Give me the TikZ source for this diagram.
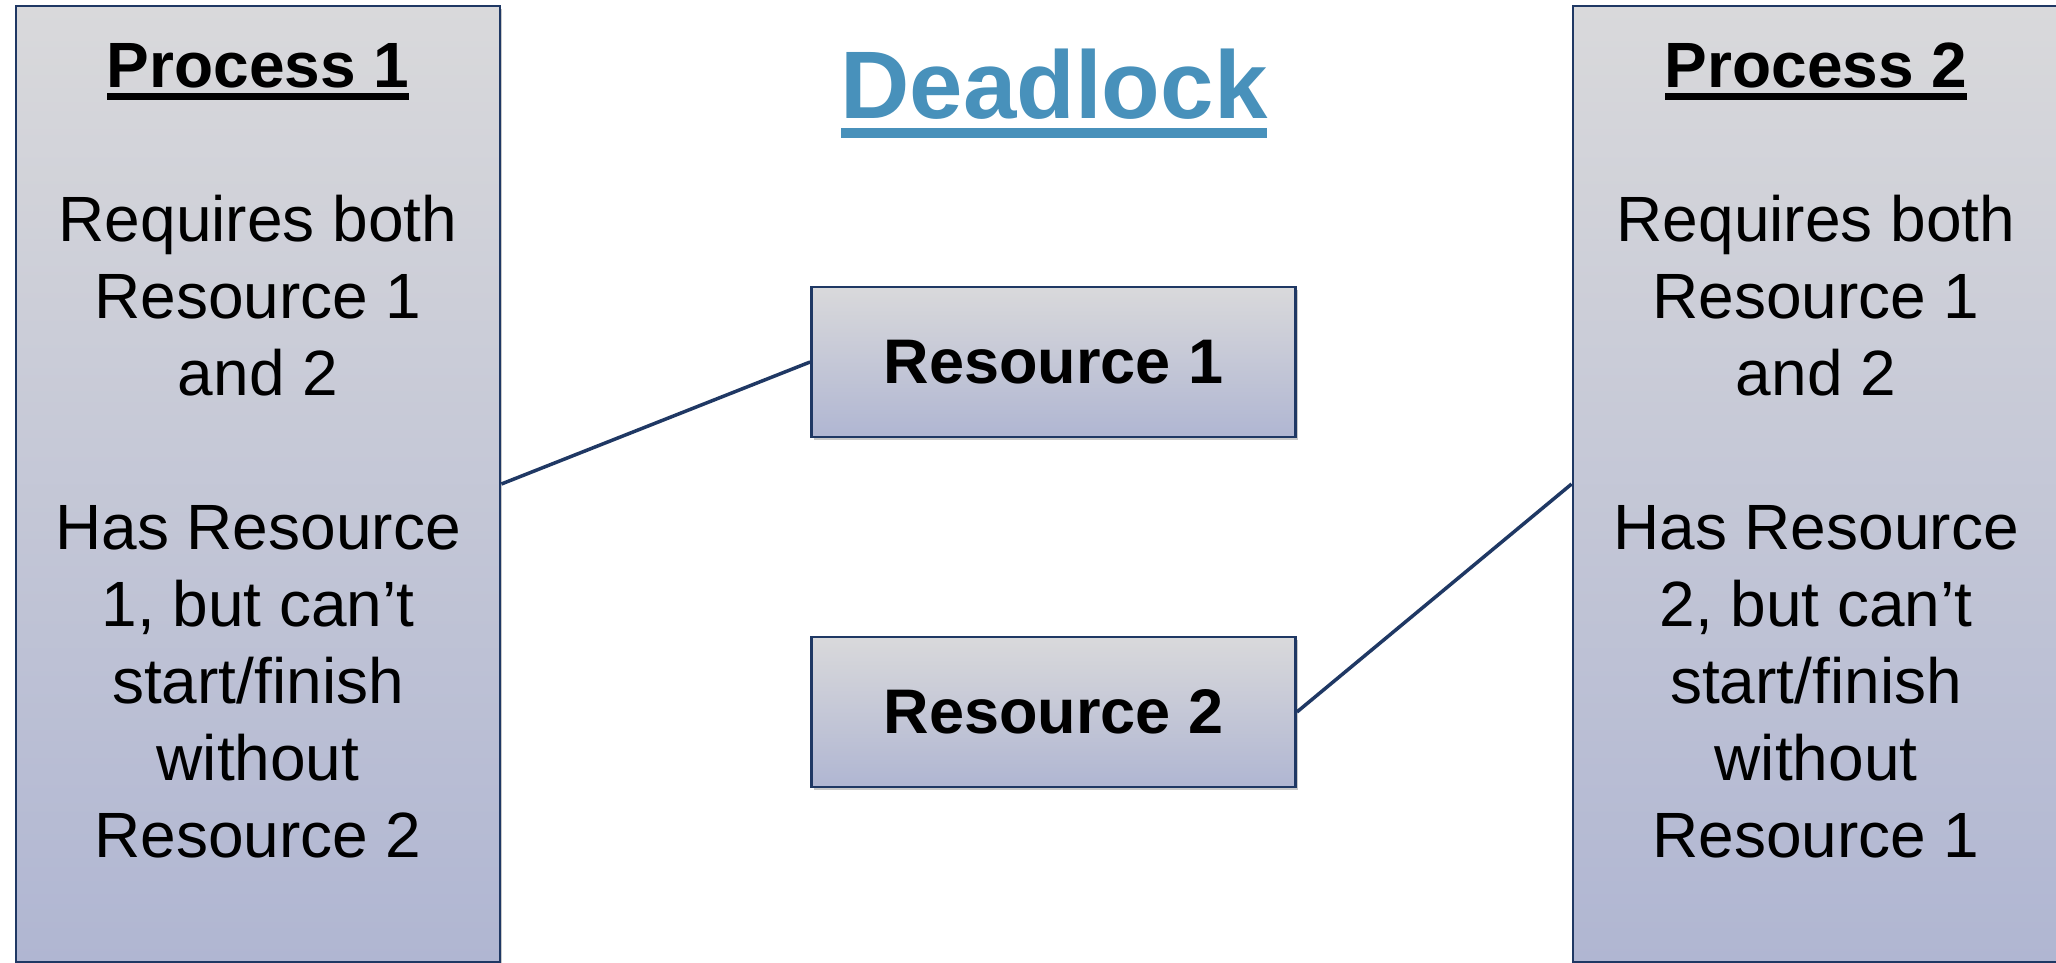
\documentclass[tikz,border=0pt]{standalone}
\usepackage{fontspec}
\setmainfont{Liberation Sans}
\usetikzlibrary{shadows}

\definecolor{edge}{RGB}{31,56,100}
\definecolor{boxtop}{RGB}{217,217,219}
\definecolor{boxbottom}{RGB}{176,182,210}
\definecolor{titleblue}{RGB}{72,145,187}

% text with a rule under it: #1 = depth of the rule's lower edge, #2 = rule thickness
\newcommand\ruledtext[3]{\setbox0\hbox{#3}\rlap{\rule[-#1]{\wd0}{#2}}\box0}

\tikzset{
  shade box/.style={draw=edge, line width=2.8pt, top color=boxtop, bottom color=boxbottom,
    inner sep=0pt,
    drop shadow={shadow xshift=2pt, shadow yshift=-3pt, opacity=0.35, fill=black!60}},
  procbox/.style={shade box, minimum height=956pt},
  resbox/.style={shade box, minimum width=484pt, minimum height=150pt,
    font=\fontsize{63}{74}\selectfont\bfseries},
  heading/.style={inner sep=0pt, anchor=base, font=\fontsize{64}{77}\selectfont\bfseries},
  bodytext/.style={inner sep=0pt, anchor=north, align=center, font=\fontsize{64}{77}\selectfont},
  titletext/.style={inner sep=0pt, anchor=base, text=titleblue, font=\fontsize{96}{110}\selectfont\bfseries},
  link/.style={draw=edge, line width=3.5pt}
}

\begin{document}
\begin{tikzpicture}[x=1pt, y=-1pt]
\useasboundingbox (0,0) rectangle (2056,963);
\fill[white] (0,0) rectangle (2056,963);

% processes
\node[procbox, minimum width=484pt] (p1) at (258,484) {};
\node[procbox, minimum width=486pt] (p2) at (1816,484) {};

\node[heading] (p1h) at (258,88) {\ruledtext{12pt}{7pt}{Process 1}};
\node[heading] (p2h) at (1816,88) {\ruledtext{12pt}{7pt}{Process 2}};

\node[bodytext] (p1b) at (258,195) {Requires both\\Resource 1\\and 2\\[77pt]Has Resource\\1, but can’t\\start/finish\\without\\Resource 2};
\node[bodytext] (p2b) at (1816,195) {Requires both\\Resource 1\\and 2\\[77pt]Has Resource\\2, but can’t\\start/finish\\without\\Resource 1};

% title
\node[titletext] (title) at (1054,119) {\ruledtext{19pt}{10pt}{Deadlock}};

% resources
\node[resbox] (r1) at (1053.5,362) {Resource 1};
\node[resbox] (r2) at (1053.5,712) {Resource 2};

% holdings
\draw[link] (p1.east) -- (r1.west);
\draw[link] (r2.east) -- (p2.west);
\end{tikzpicture}
\end{document}
